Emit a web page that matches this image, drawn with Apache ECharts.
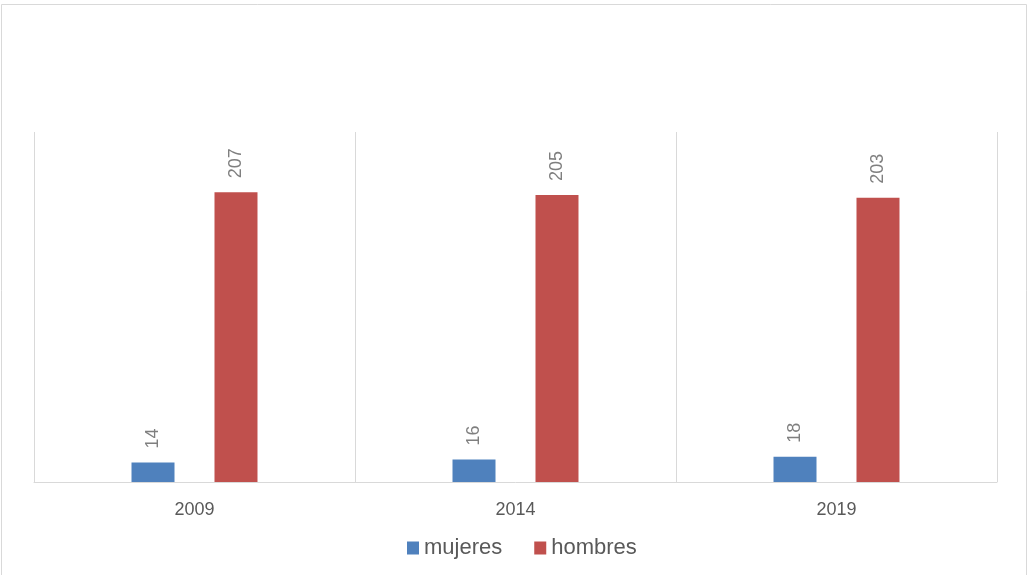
<!DOCTYPE html>
<html>
<head>
<meta charset="utf-8">
<script src="https://cdn.jsdelivr.net/npm/echarts@6/dist/echarts.min.js"></script>
<style>
  html, body { margin: 0; padding: 0; background: #fff; }
  #chart { width: 1029px; height: 575px; }
</style>
</head>
<body>
<div id="chart"></div>
<script>
// datos del gráfico
const years = ['2009', '2014', '2019'];
const mujeres = [14, 16, 18];
const hombres = [207, 205, 203];

const chart = echarts.init(document.getElementById('chart'));

const fontFam = 'Liberation Sans, Arial, sans-serif';

const labelStyle = {
  show: true,
  position: 'top',
  rotate: 90,
  align: 'left',
  verticalAlign: 'middle',
  distance: 14,
  color: '#7f7f7f',
  fontSize: 18,
  fontFamily: fontFam
};

const option = {
  animation: false,
  backgroundColor: '#fff',
  graphic: [{
    type: 'rect',
    shape: { x: 1.5, y: 4.5, width: 1025, height: 580 },
    style: { fill: 'none', stroke: '#d9d9d9', lineWidth: 1 },
    silent: true
  }],
  grid: { left: 34, right: 32, top: 132, bottom: 93 },
  legend: {
    top: 532,
    left: 402,
    itemWidth: 12,
    itemHeight: 13,
    itemGap: 32,
    icon: 'rect',
    textStyle: { color: '#595959', fontSize: 22, fontFamily: fontFam },
    data: ['mujeres', 'hombres']
  },
  xAxis: {
    type: 'category',
    data: years,
    axisLine: { lineStyle: { color: '#d9d9d9', width: 1 } },
    axisTick: { show: false },
    axisLabel: { color: '#595959', fontSize: 18, margin: 19, fontFamily: fontFam },
    splitLine: { show: true, lineStyle: { color: '#d9d9d9', width: 1 } }
  },
  yAxis: {
    type: 'value',
    min: 0,
    max: 250,
    show: false,
    splitLine: { show: false }
  },
  series: [
    {
      name: 'mujeres',
      type: 'bar',
      data: mujeres,
      barWidth: 43,
      barGap: '93%',
      itemStyle: { color: '#4f81bd' },
      label: labelStyle
    },
    {
      name: 'hombres',
      type: 'bar',
      data: hombres,
      barWidth: 43,
      itemStyle: { color: '#c0504d' },
      label: labelStyle
    }
  ]
};

chart.setOption(option);
</script>
</body>
</html>
